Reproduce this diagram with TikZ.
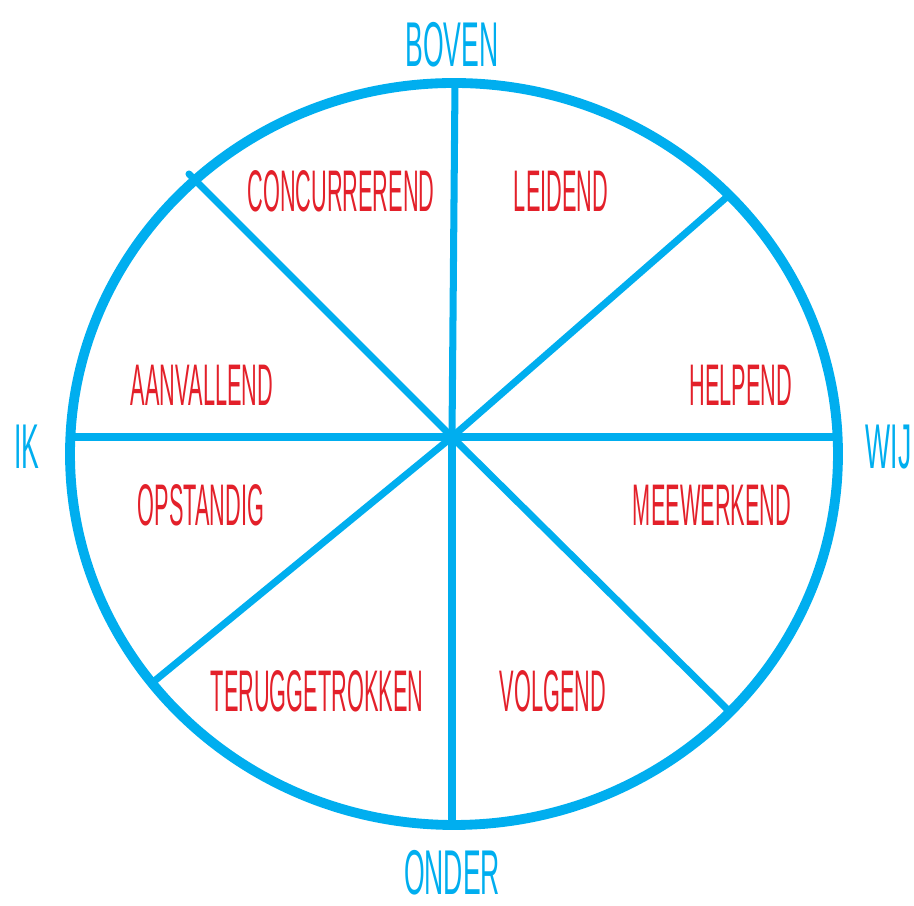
\documentclass[tikz,border=0pt]{standalone}
\usepackage{fontspec}
\usepackage{xcolor}
\usetikzlibrary{positioning,calc}
\newfontfamily\handfont[FakeStretch=0.37]{Liberation Sans}
\newfontfamily\axisfont[FakeStretch=0.42]{Liberation Sans}
\definecolor{kblue}{HTML}{00AEEF}
\definecolor{kred}{HTML}{E3202A}

\begin{document}
\begin{tikzpicture}[
  rim/.style={line width=2.8pt,kblue},
  spk/.style={line width=2pt,kblue,line cap=round},
  ax/.style={font=\axisfont\fontsize{18}{20}\selectfont,color=kblue,inner sep=0pt},
  lb/.style={font=\handfont\fontsize{16.7}{19}\selectfont,color=kred,inner sep=0pt}
]
\useasboundingbox (0,0) rectangle (9.14,9.06);
%--- wheel ---
\draw[rim] (4.54,4.52) ellipse[x radius=3.84,y radius=3.71];
\coordinate (o) at (4.52,4.69);
\coordinate (n) at (4.55,8.23);
\coordinate (s) at (4.52,0.81);
\coordinate (w) at (0.70,4.69);
\coordinate (e) at (8.38,4.69);
\coordinate (nw) at (1.89,7.32);
\coordinate (ne) at (7.28,7.10);
\coordinate (sw) at (1.52,2.23);
\coordinate (se) at (7.30,1.94);
\foreach \p in {n,s,w,e,nw,ne,sw,se} \draw[spk](o)--(\p);
%--- axis labels ---
\node[ax] (boven) at (4.52,8.61){BOVEN};
\node[ax] (onder) at (4.52,0.33){ONDER};
\node[ax] (ik) at (0.27,4.59){IK};
\node[ax,anchor=west] (wij) at (8.65,4.59){WIJ};
%--- segment labels ---
\node[lb] (conc) at (3.41,7.15){CONCURREREND};
\node[lb] (leid) at (5.61,7.15){LEIDEND};
\node[lb] (aanv) at (2.02,5.21){AANVALLEND};
\node[lb] (help) at (7.41,5.21){HELPEND};
\node[lb] (opst) at (2.01,4.01){OPSTANDIG};
\node[lb] (meew) at (7.12,4.01){MEEWERKEND};
\node[lb] (teru) at (3.17,2.15){TERUGGETROKKEN};
\node[lb] (volg) at (5.53,2.15){VOLGEND};
\end{tikzpicture}
\end{document}
